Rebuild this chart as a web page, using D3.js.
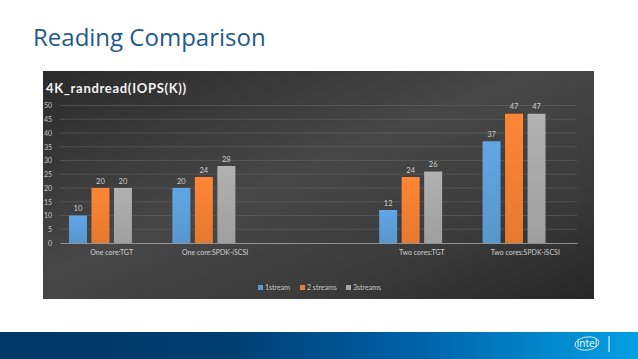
<!DOCTYPE html>
<html lang="en">
  <head>
    <meta charset="utf-8">
    <title>Reading Comparison</title>
    <script src="https://cdn.jsdelivr.net/npm/d3@7/dist/d3.min.js"></script>
    <style>
      body { margin: 0; background: #fff; }
      svg { display: block; }
      .tick text { font-family: Lato, "Open Sans", sans-serif; }
    </style>
  </head>
  <body>
    <svg width="638" height="359"></svg>
    <script>
    // data (the empty category is the gap in the original)
    var categories = ["One core:TGT", "One core:SPDK-iSCSI", "", "Two cores:TGT", "Two cores:SPDK-iSCSI"];
    var seriesNames = ["1stream", "2 streams", "3streams"];
    var stream1 = [10, 20, null, 12, 37];
    var stream2 = [20, 24, null, 24, 47];
    var stream3 = [20, 28, null, 26, 47];
    var yTicks = [0, 5, 10, 15, 20, 25, 30, 35, 40, 45, 50];
    var colors = ["#5b9bd5", "#ed7d31", "#a5a5a5"];

    var series = [stream1, stream2, stream3];

    var svg = d3.select("svg");
    var defs = svg.append("defs");

    // page title
    svg.append("text")
      .attr("x", 33).attr("y", 46)
      .style("font-family", "'Open Sans', sans-serif")
      .style("font-size", "24px")
      .style("fill", "#1d5a8d")
      .text("Reading Comparison");

    // footer band
    var fg = defs.append("linearGradient").attr("id", "foot");
    fg.append("stop").attr("offset", "0%").attr("stop-color", "#003867");
    fg.append("stop").attr("offset", "35%").attr("stop-color", "#003d70");
    fg.append("stop").attr("offset", "65%").attr("stop-color", "#0061a8");
    fg.append("stop").attr("offset", "100%").attr("stop-color", "#04a0e3");
    svg.append("rect").attr("x", 0).attr("y", 332).attr("width", 638).attr("height", 27)
      .attr("fill", "url(#foot)");
    svg.append("ellipse").attr("cx", 587).attr("cy", 343.5).attr("rx", 12).attr("ry", 6.5)
      .attr("fill", "none").attr("stroke", "#fff").attr("stroke-width", 0.8)
      .attr("transform", "rotate(-8,587,343.5)");
    svg.append("text").attr("x", 587).attr("y", 347).attr("text-anchor", "middle")
      .style("font-family", "'Open Sans', sans-serif").style("font-size", "10px")
      .style("fill", "#fff").text("intel");
    svg.append("line").attr("x1", 609).attr("x2", 609).attr("y1", 336).attr("y2", 352)
      .attr("stroke", "#fff").attr("stroke-width", 1);

    // chart panel
    var bg = defs.append("linearGradient").attr("id", "panel")
      .attr("x1", "0%").attr("y1", "0%").attr("x2", "100%").attr("y2", "100%");
    bg.append("stop").attr("offset", "0%").attr("stop-color", "#2a2a2a");
    bg.append("stop").attr("offset", "45%").attr("stop-color", "#474747");
    bg.append("stop").attr("offset", "75%").attr("stop-color", "#3a3a3a");
    bg.append("stop").attr("offset", "100%").attr("stop-color", "#262626");
    svg.append("rect").attr("x", 43).attr("y", 71).attr("width", 551).attr("height", 228)
      .attr("fill", "url(#panel)");

    svg.append("text")
      .attr("x", 46).attr("y", 93)
      .style("font-family", "Lato, sans-serif")
      .style("font-weight", "bold")
      .style("font-size", "13px")
      .style("letter-spacing", "0.7px")
      .style("fill", "#f2f2f2")
      .text("4K_randread(IOPS(K))");

    var plotLeft = 60, plotRight = 577, plotTop = 105.5, plotBottom = 243;

    var x0 = d3.scaleBand().domain(categories).range([plotLeft, plotRight])
      .paddingInner(0.13).paddingOuter(0.065);
    // four slots per group like the original, the last one is empty
    var x1 = d3.scaleBand().domain([0, 1, 2, 3]).range([0, x0.bandwidth()])
      .paddingInner(0.2).paddingOuter(0.1);
    var y = d3.scaleLinear().domain([0, 50]).range([plotBottom, plotTop]);

    // gridlines
    svg.append("g").selectAll("line")
      .data(yTicks.filter(function(d) { return d > 0; }))
      .enter().append("line")
        .attr("x1", plotLeft).attr("x2", plotRight)
        .attr("y1", function(d) { return y(d); })
        .attr("y2", function(d) { return y(d); })
        .attr("stroke", "#5e5e5e").attr("stroke-width", 0.7);

    // y axis labels
    var yAxis = svg.append("g")
      .attr("transform", "translate(" + (plotLeft - 8) + ",0)")
      .call(d3.axisLeft(y).tickValues(yTicks).tickSize(0).tickPadding(0));
    yAxis.select(".domain").remove();
    yAxis.selectAll("text").style("font-size", "7px").style("fill", "#c8c8c8");

    // bar gradients
    colors.forEach(function(c, i) {
      var g = defs.append("linearGradient").attr("id", "bar" + i)
        .attr("x1", "0%").attr("y1", "0%").attr("x2", "0%").attr("y2", "100%");
      g.append("stop").attr("offset", "0%").attr("stop-color", d3.color(c).brighter(0.2));
      g.append("stop").attr("offset", "100%").attr("stop-color", d3.color(c).darker(0.1));
    });

    var groups = svg.append("g").selectAll("g")
      .data(categories)
      .enter().append("g")
        .attr("transform", function(d) { return "translate(" + x0(d) + ",0)"; });

    groups.selectAll("rect")
      .data(function(d, ci) {
        return series.map(function(s, si) { return {s: si, v: s[ci]}; })
          .filter(function(e) { return e.v != null; });
      })
      .enter().append("rect")
        .attr("x", function(d) { return x1(d.s); })
        .attr("y", function(d) { return y(d.v); })
        .attr("width", x1.bandwidth())
        .attr("height", function(d) { return plotBottom - y(d.v); })
        .attr("fill", function(d) { return "url(#bar" + d.s + ")"; });

    groups.selectAll("text")
      .data(function(d, ci) {
        return series.map(function(s, si) { return {s: si, v: s[ci]}; })
          .filter(function(e) { return e.v != null; });
      })
      .enter().append("text")
        .attr("x", function(d) { return x1(d.s) + x1.bandwidth() / 2; })
        .attr("y", function(d) { return y(d.v) - 4.5; })
        .attr("text-anchor", "middle")
        .style("font-family", "Lato, sans-serif")
        .style("font-size", "7.5px")
        .style("fill", "#cfcfcf")
        .text(function(d) { return d.v; });

    // x axis
    var xAxis = svg.append("g")
      .attr("transform", "translate(0," + plotBottom + ")")
      .call(d3.axisBottom(x0).tickSize(0).tickPadding(7));
    xAxis.select(".domain").attr("stroke", "#a8a8a8").attr("stroke-width", 0.8);
    xAxis.selectAll("text").style("font-size", "7px").style("fill", "#cfcfcf");

    // legend
    var legend = svg.append("g").attr("transform", "translate(0,289)");
    var lx = [258, 300, 346];
    seriesNames.forEach(function(n, i) {
      legend.append("rect").attr("x", lx[i]).attr("y", -4).attr("width", 5).attr("height", 5)
        .attr("fill", colors[i]);
      legend.append("text").attr("x", lx[i] + 7).attr("y", 1)
        .style("font-family", "Lato, sans-serif").style("font-size", "7px")
        .style("fill", "#c8c8c8").text(n);
    });
    </script>
  </body>
</html>
